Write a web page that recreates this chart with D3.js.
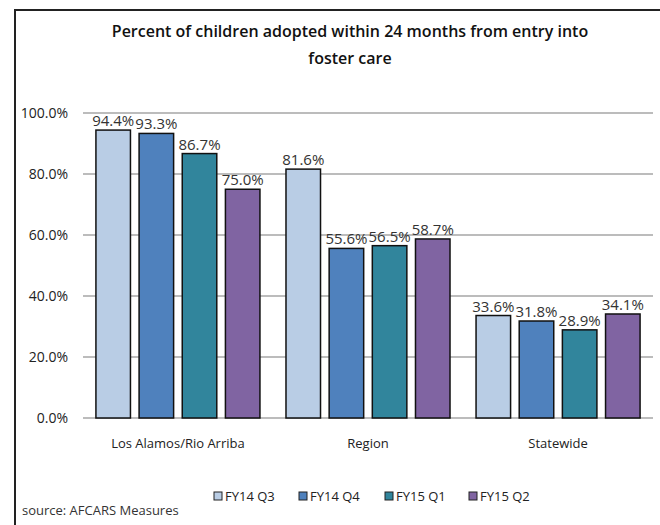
<!DOCTYPE html>
<html><head><meta charset="utf-8">
<script src="https://cdn.jsdelivr.net/npm/d3@7"></script>
<style>body{margin:0;background:#fff;} text{font-family:"Open Sans",sans-serif;}</style>
</head><body>
<svg id="c" width="660" height="525"></svg>
<script>
const categories = ["Los Alamos/Rio Arriba", "Region", "Statewide"];
const seriesNames = ["FY14 Q3", "FY14 Q4", "FY15 Q1", "FY15 Q2"];
const fy14q3 = [94.4, 81.6, 33.6];
const fy14q4 = [93.3, 55.6, 31.8];
const fy15q1 = [86.7, 56.5, 28.9];
const fy15q2 = [75.0, 58.7, 34.1];
const yTicks = [0, 20, 40, 60, 80, 100];
const colors = ["#b9cde5", "#4f81bd", "#31859c", "#8064a2"];
const seriesValues = [fy14q3, fy14q4, fy15q1, fy15q2];

(function() {
const svg = d3.select("#c");
// frame
svg.append("path").attr("d","M15,525 V10 H660").attr("fill","none").attr("stroke","#222").attr("stroke-width",2);

// title
const title = svg.append("text").attr("x",350).attr("text-anchor","middle").attr("font-size",16).attr("font-weight",600).attr("fill","#111");
title.append("tspan").attr("x",350).attr("y",37).text("Percent of children adopted within 24 months from entry into");
title.append("tspan").attr("x",350).attr("y",64).text("foster care");

const pL = 83, pR = 653, pT = 113, pB = 418;
const x0 = d3.scaleBand().domain(categories).range([pL, pR]).paddingInner(0.137).paddingOuter(0.068);
const x1 = d3.scaleBand().domain(seriesNames).range([0, x0.bandwidth()]).paddingInner(0.2);
const y = d3.scaleLinear().domain([0, 100]).range([pB, pT]);

// gridlines
svg.append("g").selectAll("line").data(yTicks).join("line")
  .attr("x1", pL).attr("x2", pR)
  .attr("y1", d => y(d)).attr("y2", d => y(d))
  .attr("stroke", "#a6a6a6").attr("stroke-width", 1.5);

// y axis labels
const yAxis = d3.axisLeft(y).tickValues(yTicks).tickFormat(d => d.toFixed(1) + "%").tickSize(0).tickPadding(0);
const ya = svg.append("g").attr("transform", `translate(68,0)`).call(yAxis);
ya.select(".domain").remove();
ya.selectAll("text").attr("font-size", 14).attr("fill", "#222").attr("font-family", null);

// bars
const groups = svg.append("g").selectAll("g").data(categories).join("g")
  .attr("transform", c => `translate(${x0(c)},0)`);
groups.each(function(c, ci) {
  const g = d3.select(this);
  seriesNames.forEach((s, si) => {
    const v = seriesValues[si][ci];
    g.append("rect").attr("x", x1(s)).attr("width", x1.bandwidth())
      .attr("y", y(v)).attr("height", y(0) - y(v))
      .attr("fill", colors[si]).attr("stroke", "#111").attr("stroke-width", 1.5);
    g.append("text").attr("x", x1(s) + x1.bandwidth() / 2).attr("y", y(v) - 4)
      .attr("text-anchor", "middle").attr("font-size", 15).attr("fill", "#333")
      .text(v.toFixed(1) + "%");
  });
});

// category labels
const xAxis = d3.axisBottom(x0).tickSize(0).tickPadding(0);
const xa = svg.append("g").attr("transform", `translate(0,${pB + 21})`).call(xAxis);
xa.select(".domain").remove();
xa.selectAll("text").attr("font-size", 13).attr("fill", "#222").attr("font-family", null);

// legend
const legX = [214, 299, 385, 469];
const leg = svg.append("g").selectAll("g").data(seriesNames).join("g")
  .attr("transform", (d, i) => `translate(${legX[i]},492)`);
leg.append("rect").attr("width", 8).attr("height", 8).attr("fill", (d, i) => colors[i]).attr("stroke", "#222").attr("stroke-width", 1);
leg.append("text").attr("x", 11).attr("y", 8.5).attr("font-size", 13).attr("fill", "#222").text(d => d);

// source
svg.append("text").attr("x", 22).attr("y", 515).attr("font-size", 13).attr("fill", "#333").text("source:  AFCARS Measures");
})();
</script>
</body></html>
